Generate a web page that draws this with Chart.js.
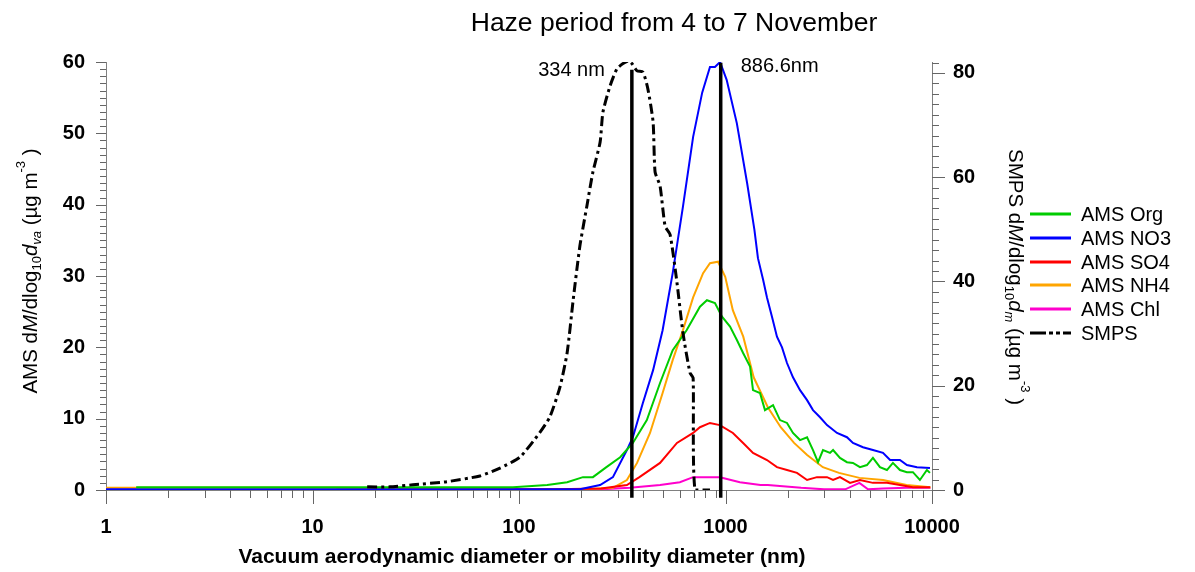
<!DOCTYPE html>
<html>
<head>
<meta charset="utf-8">
<script src="https://cdn.jsdelivr.net/npm/chart.js@4/dist/chart.umd.min.js"></script>
<style>
  body { margin: 0; background: #fff; }
  #chart { display: block; }
</style>
</head>
<body>
<canvas id="chart" width="1195" height="572"></canvas>
<script>
// diameters (nm) and values
const orgD = [1.4, 20, 60, 93.5, 137, 171, 204, 228, 265, 309, 356, 416, 482, 555, 648, 752, 813, 889, 962, 1052, 1137, 1217, 1315, 1359, 1469, 1553, 1699, 1836, 1985, 2122, 2296, 2483, 2653, 2806, 2966, 3207, 3318, 3584, 3874, 4142, 4478, 4841, 5176, 5596, 6050, 6468, 6993, 7560, 8083, 8738, 9447, 9775];
const orgV = [0.4, 0.4, 0.4, 0.4, 0.7, 1.1, 1.8, 1.8, 3.2, 4.6, 6.6, 9.8, 15, 19.6, 22.4, 25.7, 26.6, 26.2, 24.3, 22.9, 21, 19.2, 17.3, 14, 13.6, 11.2, 11.9, 9.8, 9.4, 8, 7, 7.4, 5.6, 3.9, 5.6, 5.2, 5.6, 4.5, 3.9, 3.8, 3.2, 3.5, 4.5, 3.2, 2.8, 3.8, 2.8, 2.5, 2.5, 1.4, 2.8, 2.4];

const no3D = [1, 50, 150, 197, 247, 285, 333, 356, 398, 446, 496, 555, 622, 697, 771, 841, 889, 941, 1013, 1135, 1273, 1380, 1436, 1520, 1588, 1679, 1775, 1878, 1985, 2122, 2296, 2483, 2653, 2869, 3102, 3467, 3874, 4142, 4633, 5176, 5790, 6267, 6993, 7560, 8459, 9775];
const no3V = [0.1, 0.1, 0.1, 0.1, 0.7, 1.8, 5.6, 7.4, 12.2, 16.8, 22.4, 30.4, 39.7, 49.5, 55.7, 59.3, 59.3, 60, 57.5, 51.4, 43, 36.5, 32.5, 29.5, 27, 24.3, 21.5, 20, 17.8, 15.8, 14, 12.6, 11.2, 10.2, 9.1, 8, 7.4, 6.6, 6, 5.6, 5.2, 4.2, 4.2, 3.5, 3.2, 3.1];

const so4D = [13, 50, 150, 250, 333, 383, 482, 582, 697, 752, 841, 939, 1086, 1217, 1359, 1588, 1775, 1985, 2219, 2483, 2773, 3102, 3318, 3584, 4009, 4478, 5176, 6050, 6993, 8083, 9775];
const so4V = [0.05, 0.1, 0.1, 0.2, 0.7, 1.8, 3.8, 6.6, 8, 8.8, 9.4, 9.1, 8, 6.6, 5.2, 4.2, 3.2, 2.8, 2.4, 1.4, 1.8, 1.8, 1.4, 1.8, 1.0, 1.4, 1.0, 1.0, 0.7, 0.4, 0.4];

const nh4D = [1, 13, 30, 50, 100, 200, 285, 333, 373, 431, 496, 555, 622, 697, 779, 841, 920, 997, 1085, 1219, 1369, 1603, 1851, 2148, 2485, 2962, 3544, 4451, 5795, 7530, 9843];
const nh4V = [0.3, 0.3, 0.2, 0.05, 0.05, 0.1, 0.3, 1.4, 3.8, 8, 13.6, 18.2, 22.4, 27, 30.4, 31.8, 32, 29.9, 25.2, 21.5, 15.8, 11.6, 8.8, 6.6, 4.9, 3.2, 2.4, 1.7, 1.4, 0.7, 0.4];

const chlD = [1, 100, 250, 344, 482, 601, 697, 941, 1174, 1477, 1603, 2323, 3000, 3800, 4451, 4900, 5795, 7500, 9843];
const chlV = [0.02, 0.02, 0.1, 0.3, 0.7, 1.1, 1.8, 1.8, 1.1, 0.7, 0.7, 0.3, 0.1, 0.1, 1.0, 0.1, 0.2, 0.3, 0.3];

// SMPS on the right axis
const smpsD = [18.4, 23.7, 30.6, 44.8, 64.7, 80.9, 101, 126, 141, 158, 171, 183, 197, 213, 228, 247, 255, 276, 298, 319, 340, 352, 373, 398, 421, 446, 456, 482, 510, 539, 582, 622, 673, 697, 712, 841];
const smpsV = [0.6, 0.6, 1.0, 1.6, 2.7, 4.2, 6.3, 11, 14, 19.8, 26.3, 36.5, 46.7, 54.4, 61, 66.7, 72.5, 77.5, 80.8, 81.8, 82.3, 81.8, 80.4, 80.2, 76.9, 70.6, 61, 58.3, 50.6, 49, 39.8, 30.2, 22.5, 21.5, 0, 0];

// vertical marker lines (drawn where they sit on the axis) and their labels
const modeD = [352, 948];
const modeTop = [58.9, 59.9];
const modeLabels = ["334 nm", "886.6nm"];

const y2Ticks = [0, 20, 40, 60, 80];
const FONT = '"Liberation Sans", Arial, sans-serif';

function pts(ds, vs) {
  return ds.map((d, i) => ({ x: d, y: vs[i] }));
}

const series = [
  { label: "AMS Org", d: orgD, v: orgV, color: "#00cc00" },
  { label: "AMS NO3", d: no3D, v: no3V, color: "#0000ff" },
  { label: "AMS SO4", d: so4D, v: so4V, color: "#ff0000" },
  { label: "AMS NH4", d: nh4D, v: nh4V, color: "#ffa500" },
  { label: "AMS Chl", d: chlD, v: chlV, color: "#ff00cc" },
];

const datasets = [];
modeD.forEach((d, i) => {
  datasets.push({
    label: "mode" + i,
    data: [{ x: d, y: -1.1 }, { x: d, y: modeTop[i] }],
    borderColor: "#000", borderWidth: 3.5, pointRadius: 0,
    yAxisID: "y", order: 0, clip: false,
  });
});
datasets.push({
  label: "SMPS", data: pts(smpsD, smpsV), yAxisID: "y2",
  borderColor: "#000", borderWidth: 3, borderDash: [10, 4, 3, 4],
  pointRadius: 0, order: 1, tension: 0.2,
});
series.forEach((s, i) => {
  datasets.push({
    label: s.label, data: pts(s.d, s.v), yAxisID: "y",
    borderColor: s.color, borderWidth: 2, pointRadius: 0, order: 2 + i,
  });
});

function isDecade(v) {
  const l = Math.log10(v);
  return Math.abs(l - Math.round(l)) < 1e-9;
}

function fontFor(p, size) {
  const small = p.sub || p.sup;
  return (p.italic ? "italic " : "") + (p.bold ? "bold " : "") +
    (small ? Math.round(size * 0.62) : size) + "px " + FONT;
}

// rich text (sub/superscripts), centred on x,y and rotated
function drawRich(ctx, parts, x, y, angle, size) {
  ctx.save();
  ctx.translate(x, y);
  ctx.rotate(angle);
  let total = 0;
  parts.forEach(p => { ctx.font = fontFor(p, size); p.w = ctx.measureText(p.t).width; total += p.w; });
  let cx = -total / 2;
  ctx.textBaseline = "middle";
  ctx.textAlign = "left";
  ctx.fillStyle = "#000";
  parts.forEach(p => {
    ctx.font = fontFor(p, size);
    const dy = p.sub ? size * 0.32 : p.sup ? -size * 0.45 : 0;
    ctx.fillText(p.t, cx, dy);
    cx += p.w;
  });
  ctx.restore();
}

const decorations = {
  id: "decorations",
  afterDraw(chart) {
    const ctx = chart.ctx;
    const a = chart.chartArea;
    const sx = chart.scales.x, sy = chart.scales.y, sy2 = chart.scales.y2;

    // tick marks
    ctx.save();
    ctx.strokeStyle = "#666";
    ctx.lineWidth = 1;
    ctx.beginPath();
    for (let k = 0; k < 4; k++) {
      for (let m = 1; m <= 9; m++) {
        const px = Math.round(sx.getPixelForValue(m * Math.pow(10, k))) + 0.5;
        const len = m === 1 ? 14 : 8;
        ctx.moveTo(px, a.bottom); ctx.lineTo(px, a.bottom + len);
      }
    }
    const pe = Math.round(sx.getPixelForValue(10000)) + 0.5;
    ctx.moveTo(pe, a.bottom); ctx.lineTo(pe, a.bottom + 14);
    for (let v = 0; v <= 60; v++) {
      const py = Math.round(sy.getPixelForValue(v)) + 0.5;
      const len = v % 10 === 0 ? 10 : 6;
      ctx.moveTo(a.left - len, py); ctx.lineTo(a.left, py);
    }
    for (let v = 0; v <= 82; v += 2) {
      const py = Math.round(sy2.getPixelForValue(v)) + 0.5;
      const len = v % 20 === 0 ? 13 : 7;
      ctx.moveTo(a.right, py); ctx.lineTo(a.right + len, py);
    }
    ctx.stroke();
    ctx.restore();

    // title
    ctx.save();
    ctx.fillStyle = "#000";
    ctx.font = "26.5px " + FONT;
    ctx.textAlign = "center";
    ctx.textBaseline = "middle";
    ctx.fillText("Haze period from 4 to 7 November", 674, 24);

    // x axis title
    ctx.font = "bold 21px " + FONT;
    ctx.fillText("Vacuum aerodynamic diameter or mobility diameter (nm)", 522, 557);

    // marker labels
    ctx.font = "20px " + FONT;
    ctx.textAlign = "right";
    ctx.fillText(modeLabels[0], sx.getPixelForValue(modeD[0]) - 27, 70);
    ctx.textAlign = "left";
    ctx.fillText(modeLabels[1], sx.getPixelForValue(modeD[1]) + 20, 66);

    // legend
    const rows = [214, 238, 262, 285, 309, 333];
    const items = series.map(s => ({ label: s.label, color: s.color, dash: [] }));
    items.push({ label: "SMPS", color: "#000", dash: [16, 3, 4, 3, 4, 3] });
    items.forEach((it, i) => {
      ctx.beginPath();
      ctx.strokeStyle = it.color;
      ctx.lineWidth = 3;
      ctx.setLineDash(it.dash);
      ctx.moveTo(1030, rows[i]); ctx.lineTo(1071, rows[i]);
      ctx.stroke();
      ctx.setLineDash([]);
      ctx.fillStyle = "#000";
      ctx.font = "20px " + FONT;
      ctx.textAlign = "left";
      ctx.fillText(it.label, 1081, rows[i] + 1);
    });
    ctx.restore();

    // axis titles
    drawRich(ctx, [
      { t: "AMS d" }, { t: "M", italic: true }, { t: "/dlog" }, { t: "10", sub: true },
      { t: "d", italic: true }, { t: "va", sub: true, italic: true },
      { t: " (µg m" }, { t: "-3", sup: true }, { t: " )" },
    ], 31, 271, -Math.PI / 2, 20.5);
    drawRich(ctx, [
      { t: "SMPS d" }, { t: "M", italic: true }, { t: "/dlog" }, { t: "10", sub: true },
      { t: "d", italic: true }, { t: "m", sub: true, italic: true },
      { t: " (µg m" }, { t: "-3", sup: true }, { t: " )" },
    ], 1015, 277, Math.PI / 2, 20.5);
  },
};

const tickFont = { family: FONT, size: 20, weight: "bold" };
const axisColor = "#808080";

new Chart(document.getElementById("chart"), {
  type: "line",
  data: { datasets: datasets },
  options: {
    responsive: false,
    animation: false,
    layout: { padding: { top: 62, left: 0, right: 0, bottom: 0 } },
    plugins: { legend: { display: false }, tooltip: { enabled: false }, title: { display: false } },
    scales: {
      x: {
        type: "logarithmic", min: 1, max: 10000, position: "bottom",
        grid: { display: false },
        border: { display: true, color: axisColor, width: 1 },
        ticks: {
          autoSkip: false, maxRotation: 0, padding: 17, color: "#000", font: tickFont,
          callback: v => (isDecade(v) ? String(Math.round(v)) : ""),
        },
        afterFit: s => { s.height = 82; },
      },
      y: {
        position: "left", min: 0, max: 60,
        grid: { display: false },
        border: { display: true, color: axisColor, width: 1 },
        ticks: { stepSize: 10, padding: 13, color: "#000", font: tickFont },
        afterFit: s => { s.width = 106; },
      },
      y2: {
        position: "right", min: 0, max: 82.1,
        grid: { display: false },
        border: { display: true, color: axisColor, width: 1 },
        ticks: { padding: 13, color: "#000", font: tickFont },
        afterBuildTicks: s => { s.ticks = y2Ticks.map(v => ({ value: v })); },
        afterFit: s => { s.width = 263; },
      },
    },
  },
  plugins: [decorations],
});
</script>
</body>
</html>
